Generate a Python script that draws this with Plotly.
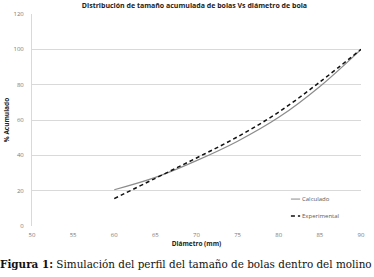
import plotly.graph_objects as go

diametro = [60, 65, 70, 75, 80, 85, 90]
calculado = [20.5, 27.5, 37.0, 48.0, 61.5, 79.0, 100.0]
experimental = [15.5, 27.0, 38.5, 50.5, 64.5, 81.5, 100.0]

x_ticks = [50, 55, 60, 65, 70, 75, 80, 85, 90]
y_ticks = [0, 20, 40, 60, 80, 100, 120]
series_names = ["Calculado", "Experimental"]
series_colors = ["#8c8c8c", "#111111"]

fig = go.Figure()
fig.add_trace(go.Scatter(x=diametro, y=calculado, mode="lines", name=series_names[0],
                         line=dict(color=series_colors[0], width=1.2, shape="spline")))
fig.add_trace(go.Scatter(x=diametro, y=experimental, mode="lines", name=series_names[1],
                         line=dict(color=series_colors[1], width=1.5, dash="4px,3px", shape="spline")))

fig.update_layout(
    width=374, height=277,
    margin=dict(l=32, r=13, t=14, b=51),
    paper_bgcolor="white", plot_bgcolor="white",
    font=dict(family="Open Sans", color="#595959", size=6),
    title=dict(text="<b>Distribución de tamaño acumulada de bolas Vs diámetro de bola</b>",
               x=0.52, xanchor="center", y=0.988, yanchor="top",
               font=dict(size=7, color="#222222", family="Open Sans")),
    xaxis=dict(range=[50, 90], tickvals=x_ticks, showgrid=False, zeroline=False, automargin=False,
               showline=False, ticks="", tickfont=dict(size=6, color="#7a7a7a"),
               ticklabelstandoff=4,
               title=dict(text="<b>Diámetro (mm)</b>", font=dict(size=6.5, color="#222222"), standoff=1)),
    yaxis=dict(range=[0, 120], tickvals=y_ticks, showgrid=True, gridcolor="#d9d9d9", gridwidth=1,
               zeroline=False, showline=True, linecolor="#d9d9d9", ticks="", automargin=False,
               tickfont=dict(size=6, color="#7a7a7a"), ticklabelstandoff=6,
               title=dict(text="<b>% Acumulado</b>", font=dict(size=6.5, color="#222222"), standoff=3)),
    showlegend=False,
)

# custom compact legend (short line samples like the original)
legend_y = [0.127, 0.047]
for name, color, ly, dash, w in zip(series_names, series_colors, legend_y, ["solid", "4px,3px"], [1.0, 1.5]):
    fig.add_shape(type="line", xref="paper", yref="paper", x0=0.787, x1=0.815, y0=ly, y1=ly,
                  line=dict(color=color, width=w, dash=dash))
    fig.add_annotation(text=name, xref="paper", yref="paper", x=0.815, y=ly, xanchor="left",
                       yanchor="middle", showarrow=False, font=dict(size=6, color="#595959"))

fig.add_annotation(text="<b>Figura 1:</b> Simulación del perfil del tamaño de bolas dentro del molino",
                   xref="paper", yref="paper", x=0.468, y=-0.14, xanchor="center", yanchor="top",
                   showarrow=False, font=dict(family="DejaVu Serif", size=10.4, color="#111111"))

fig.write_html("out.html", config={"displayModeBar": False},
               post_script="document.body.style.margin='0';document.body.style.overflow='hidden';")
